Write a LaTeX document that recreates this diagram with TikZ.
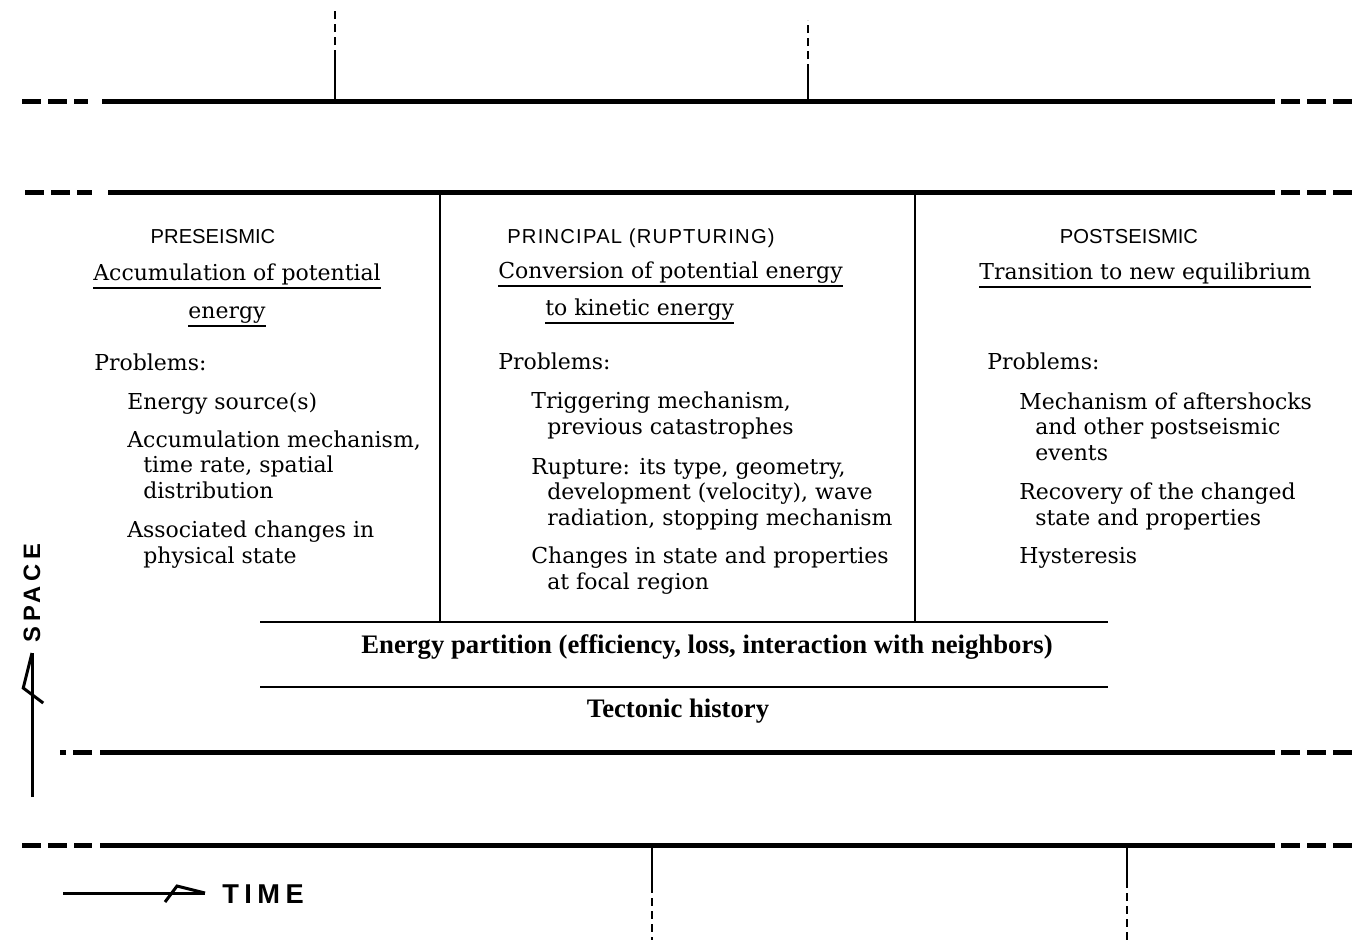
\documentclass[tikz,border=0pt]{standalone}
\usepackage{fontspec}
\setmainfont{DejaVu Serif}
\setsansfont{Liberation Sans}
\newfontfamily\boldserif{Liberation Serif}
\usetikzlibrary{positioning}

\tikzset{
  heavy/.style={line width=0.1cm},
  heavytail/.style={line width=0.1cm, dash pattern=on 0.38cm off 0.14cm},
  rule/.style={line width=0.04cm},
  tickdash/.style={line width=0.04cm, dash pattern=on 0.16cm off 0.1cm},
  phase/.style={inner sep=0pt, anchor=base, font=\sffamily\fontsize{11.5}{13}\selectfont},
  aim/.style={inner sep=0pt, anchor=base west, font=\fontsize{12.5}{14.5}\selectfont},
  item/.style={inner sep=0pt, anchor=base west, align=left, font=\fontsize{12.5}{14.5}\selectfont},
  shared/.style={inner sep=0pt, anchor=base, font=\boldserif\bfseries\fontsize{15.2}{17}\selectfont},
  axislabel/.style={inner sep=0pt, font=\sffamily\bfseries\fontsize{13.5}{16}\selectfont\addfontfeature{LetterSpace=20}},
  spear/.pic={\draw[line width=0.06cm] (0,0) -- (-28,-7) -- (-40,9);},
}

\begin{document}
\begin{tikzpicture}[x=0.02cm,y=-0.02cm]
\useasboundingbox (0,0) rectangle (1354,940);

% heavy lines
\coordinate (aw) at (102,101); \coordinate (ae) at (1275,101);
\coordinate (bw) at (108,192); \coordinate (be) at (1275,192);
\coordinate (cw) at (100,752); \coordinate (ce) at (1275,752);
\coordinate (dw) at (100,845); \coordinate (de) at (1275,845);

\draw[heavy] (aw) -- (ae);
\draw[heavytail] ([xshift=-1.6cm]aw) -- ([xshift=-0.28cm]aw);
\draw[heavytail] ([xshift=0.12cm]ae) -- ([xshift=1.58cm]ae);
\draw[heavy] (bw) -- (be);
\draw[heavytail] ([xshift=-1.66cm]bw) -- ([xshift=-0.32cm]bw);
\draw[heavytail] ([xshift=0.12cm]be) -- ([xshift=1.58cm]be);
\draw[heavy] (cw) -- (ce);
\draw[heavytail] ([xshift=-0.16cm]cw) -- ([xshift=-0.8cm]cw);
\draw[heavytail] ([xshift=0.12cm]ce) -- ([xshift=1.58cm]ce);
\draw[heavy] (dw) -- (de);
\draw[heavytail] ([xshift=-1.56cm]dw) -- ([xshift=-0.16cm]dw);
\draw[heavytail] ([xshift=0.12cm]de) -- ([xshift=1.58cm]de);

% ticks
\coordinate (ua) at (335,101); \coordinate (ub) at (808,101);
\coordinate (la) at (652,845); \coordinate (lb) at (1127,845);
\draw[rule] (ua) -- ++(0,-43) coordinate (ua2);
\draw[tickdash] (ua2) -- ++(0,-48);
\draw[rule] (ub) -- ++(0,-29) coordinate (ub2);
\draw[tickdash] (ub2) -- ++(0,-52);
\draw[rule] (la) -- ++(0,40) coordinate (la2);
\draw[tickdash] (la2) -- ++(0,55);
\draw[rule] (lb) -- ++(0,35) coordinate (lb2);
\draw[tickdash] (lb2) -- ++(0,60);

% phase frame
\coordinate (p1) at (440,192); \coordinate (p2) at (915,192);
\coordinate (sl) at (260,622); \coordinate (sr) at (1108,622);
\coordinate (hl) at (260,687); \coordinate (hr) at (1108,687);
\draw[rule] (p1) -- (p1 |- sl);
\draw[rule] (p2) -- (p2 |- sl);
\draw[rule] (sl) -- (sr);
\draw[rule] (hl) -- (hr);

% preseismic (multi-line items sit on their last baseline)
\node[phase] (pre) at (213,243) {PRESEISMIC};
\node[aim] (preaim) at (93,280) {Accumulation of potential};
\node[aim, anchor=base] (preaim2) at (227,318) {energy};
\node[item] (preprob) at (94,370) {Problems:};
\node[item] (pre1) at (127,409) {Energy source(s)};
\node[item] (pre2) at (127,498) {Accumulation mechanism,\\\hspace*{0.32cm}time rate, spatial\\\hspace*{0.32cm}distribution};
\node[item] (pre3) at (127,563) {Associated changes in\\\hspace*{0.32cm}physical state};

% principal
\node[phase, font=\sffamily\fontsize{11.5}{13}\selectfont\addfontfeature{LetterSpace=6}] (prin) at (641,243) {PRINCIPAL (RUPTURING)};
\node[aim] (prinaim) at (498,278) {Conversion of potential energy};
\node[aim] (prinaim2) at (545,315) {to kinetic energy};
\node[item] (prinprob) at (498,369) {Problems:};
\node[item] (prin1) at (531,434) {Triggering mechanism,\\\hspace*{0.32cm}previous catastrophes};
\node[item] (prin2) at (531,525) {Rupture: its type, geometry,\\\hspace*{0.32cm}development (velocity), wave\\\hspace*{0.32cm}radiation, stopping mechanism};
\node[item] (prin3) at (531,589) {Changes in state and properties\\\hspace*{0.32cm}at focal region};

% postseismic
\node[phase] (post) at (1129,243) {POSTSEISMIC};
\node[aim] (postaim) at (979,279) {Transition to new equilibrium};
\node[item] (postprob) at (987,369) {Problems:};
\node[item] (post1) at (1019,460) {Mechanism of aftershocks\\\hspace*{0.32cm}and other postseismic\\\hspace*{0.32cm}events};
\node[item] (post2) at (1019,525) {Recovery of the changed\\\hspace*{0.32cm}state and properties};
\node[item] (post3) at (1019,563) {Hysteresis};

% underlines
\draw[rule] ([yshift=-0.16cm]preaim.base west) -- ([yshift=-0.16cm]preaim.base east);
\draw[rule] ([yshift=-0.16cm]preaim2.base west) -- ([yshift=-0.16cm]preaim2.base east);
\draw[rule] ([yshift=-0.16cm]prinaim.base west) -- ([yshift=-0.16cm]prinaim.base east);
\draw[rule] ([yshift=-0.16cm]prinaim2.base west) -- ([yshift=-0.16cm]prinaim2.base east);
\draw[rule] ([yshift=-0.16cm]postaim.base west) -- ([yshift=-0.16cm]postaim.base east);

% shared rows
\node[shared] (part) at (707,653) {Energy partition (efficiency, loss, interaction with neighbors)};
\node[shared] (tect) at (678,717) {Tectonic history};

% axes
\coordinate (spacefoot) at (32,797); \coordinate (spacetip) at (32,653);
\coordinate (timefoot) at (63,893); \coordinate (timetip) at (205,893);
\draw[line width=0.06cm] (spacefoot) -- (spacetip);
\pic[rotate=90, scale=1.25] at (spacetip) {spear};
\draw[line width=0.06cm] (timefoot) -- (timetip);
\pic at (timetip) {spear};
\node[axislabel, rotate=90] (space) at (32,593) {SPACE};
\node[axislabel, anchor=base west, font=\sffamily\bfseries\fontsize{15.5}{18}\selectfont\addfontfeature{LetterSpace=20}] (time) at (222,903) {TIME};

\end{tikzpicture}
\end{document}
